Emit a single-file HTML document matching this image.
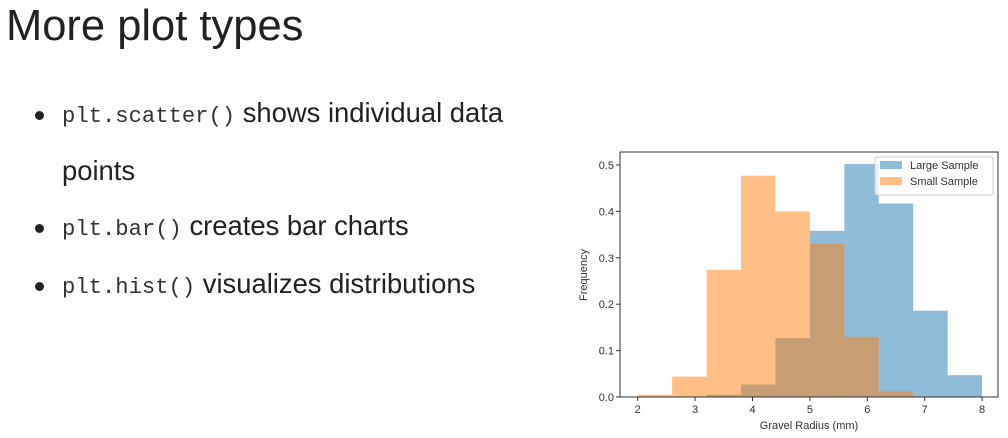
<!DOCTYPE html>
<html><head><meta charset="utf-8"><style>
body{margin:0;width:1008px;height:438px;background:#fff;position:relative;overflow:hidden;font-family:"Liberation Sans",sans-serif;color:#222}
.t{position:absolute;white-space:nowrap}
.code{font-family:"Liberation Mono",monospace;font-size:22.2px;color:#333}
.txt{font-size:27.4px}
.dot{position:absolute;width:9px;height:9px;border-radius:50%;background:#222}
</style></head><body>
<div class="t" style="left:6px;top:1px;font-size:43.5px;line-height:50px;color:#222">More plot types</div>
<div class="dot" style="left:35px;top:111px"></div>
<div class="t txt" style="left:62px;top:97px;line-height:32px"><span class="code">plt.scatter()</span> shows individual data</div>
<div class="t txt" style="left:62px;top:155px;line-height:32px">points</div>
<div class="dot" style="left:35px;top:224px"></div>
<div class="t txt" style="left:62px;top:210px;line-height:32px"><span class="code">plt.bar()</span> creates bar charts</div>
<div class="dot" style="left:35px;top:282px"></div>
<div class="t txt" style="left:62px;top:268px;line-height:32px"><span class="code">plt.hist()</span> visualizes distributions</div>
<svg id="chart" width="1008" height="438" style="position:absolute;left:0;top:0" font-family="Liberation Sans, sans-serif"></svg>
<script>
const binEdgesLarge=[3.2,3.8,4.4,5.0,5.6,6.2,6.8,7.4,8.0];
const largeValues=[0.005,0.027,0.127,0.358,0.502,0.417,0.186,0.047];
const binEdgesSmall=[2.0,2.6,3.2,3.8,4.4,5.0,5.6,6.2,6.8];
const smallValues=[0.005,0.044,0.274,0.477,0.400,0.330,0.130,0.012];
const xTicks=[2,3,4,5,6,7,8];
const yTicks=[0.0,0.1,0.2,0.3,0.4,0.5];
const L=620,R=998,T=152,B=397;
const X=v=>637.7+(v-2)*57.4;
const Y=v=>397-v*464;
const svg=document.getElementById('chart');
const NS='http://www.w3.org/2000/svg';
function mk(tag,a){const e=document.createElementNS(NS,tag);for(const k in a)e.setAttribute(k,a[k]);svg.appendChild(e);return e;}
function bars(edges,vals,color,name){
 vals.forEach((v,i)=>{
  const r=mk('rect',{x:X(edges[i]),y:Y(v),width:X(edges[i+1])-X(edges[i]),height:B-Y(v),fill:color,'fill-opacity':0.5});
  
  
 });
}
bars(binEdgesLarge,largeValues,'#1f77b4','large-sample');
bars(binEdgesSmall,smallValues,'#ff7f0e','small-sample');
const frame=mk('rect',{x:L,y:T,width:R-L,height:B-T,fill:'none',stroke:'#333','stroke-width':1});


xTicks.forEach(v=>{
 mk('line',{x1:X(v),x2:X(v),y1:B,y2:B+4,stroke:'#333'});
 const t=mk('text',{x:X(v),y:B+16,'font-size':11,'text-anchor':'middle',fill:'#333'});
 t.textContent=v;
 
 
});
yTicks.forEach(v=>{
 mk('line',{x1:L-4,x2:L,y1:Y(v),y2:Y(v),stroke:'#333'});
 const t=mk('text',{x:L-6,y:Y(v)+4,'font-size':11,'text-anchor':'end',fill:'#333'});
 t.textContent=v.toFixed(1);
 
 
});
const xt=mk('text',{x:809,y:429,'font-size':11,'text-anchor':'middle',fill:'#333'});
xt.textContent='Gravel Radius (mm)';


const yt=mk('text',{x:0,y:0,'font-size':11,'text-anchor':'middle',fill:'#333',transform:'translate(587,275) rotate(-90)'});
yt.textContent='Frequency';


const lg=mk('rect',{x:875,y:157,width:118,height:38,fill:'#fff','fill-opacity':0.8,stroke:'#ccc',rx:2});


[['Large Sample','#1f77b4'],['Small Sample','#ff7f0e']].forEach((d,i)=>{
 mk('rect',{x:880,y:161+i*16,width:22,height:8,fill:d[1],'fill-opacity':0.5});
 const t=mk('text',{x:910,y:169+i*16,'font-size':11,fill:'#333'});
 t.textContent=d[0];
 
 
});
</script>
</body></html>
